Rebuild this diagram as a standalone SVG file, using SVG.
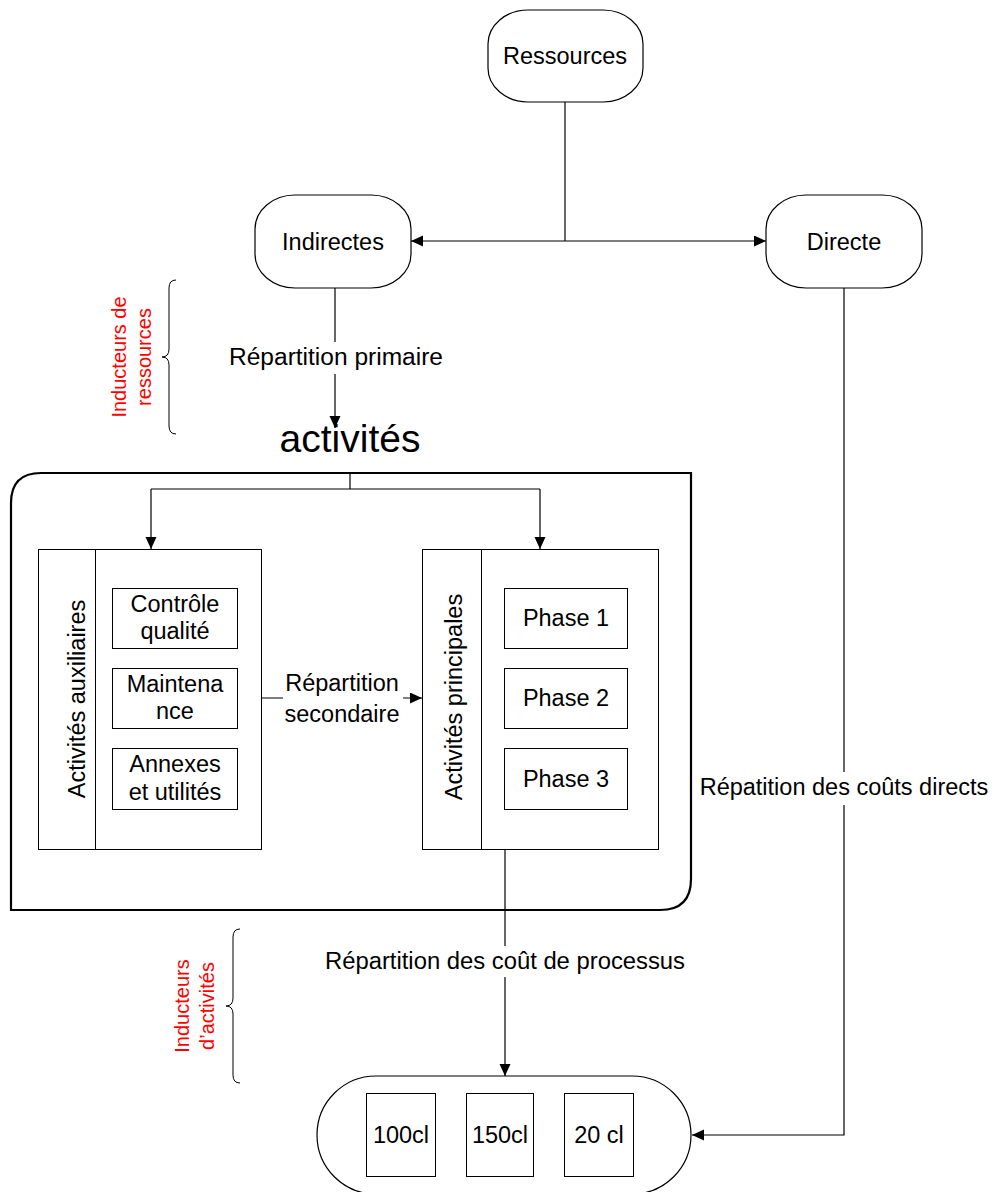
<svg xmlns="http://www.w3.org/2000/svg" width="996" height="1192" viewBox="0 0 996 1192">
  <style>
    .node { fill: #ffffff; stroke: #000000; stroke-width: 1.2; }
    .frame { fill: none; stroke: #000000; stroke-width: 2.2; }
    .box { fill: #ffffff; stroke: #000000; stroke-width: 1; }
    .lbl { font-family: "Liberation Sans", Arial, sans-serif; font-size: 23.5px; fill: #000000; text-anchor: middle; }
    .big { font-family: "Liberation Sans", Arial, sans-serif; font-size: 39px; fill: #000000; text-anchor: middle; }
    .red { font-family: "Liberation Sans", Arial, sans-serif; font-size: 20px; fill: #ff0000; text-anchor: middle; }
    .conn { fill: none; stroke: #000000; stroke-width: 1.2; }
    .brace { fill: none; stroke: #000000; stroke-width: 1; }
    .bg { fill: #ffffff; stroke: none; }
  </style>
  <defs>
    <marker id="arrow" markerUnits="userSpaceOnUse" markerWidth="13" markerHeight="12" refX="12" refY="5.5" orient="auto">
      <path d="M0,0 L12,5.5 L0,11 Z" fill="#000000"/>
    </marker>
  </defs>

  <rect width="996" height="1192" fill="#ffffff"/>

  <!-- connectors -->
  <g id="connectors">
    <path class="conn" d="M565,102 V241"/>
    <path class="conn" d="M565,241 H411" marker-end="url(#arrow)"/>
    <path class="conn" d="M565,241 H766" marker-end="url(#arrow)"/>
    <path class="conn" d="M335,288 V428" marker-end="url(#arrow)"/>
    <path class="conn" d="M350,473 V489 M151,489 H540"/>
    <path class="conn" d="M151,489 V549" marker-end="url(#arrow)"/>
    <path class="conn" d="M540,489 V549" marker-end="url(#arrow)"/>
    <path class="conn" d="M262,698 H422" marker-end="url(#arrow)"/>
    <path class="conn" d="M505,849 V1076" marker-end="url(#arrow)"/>
    <path class="conn" d="M844,288 V1135 H692" marker-end="url(#arrow)"/>

    <rect class="bg" x="224" y="342" width="226" height="32"/>
    <text class="lbl" x="336" y="365" textLength="214" lengthAdjust="spacingAndGlyphs">Répartition primaire</text>

    <rect class="bg" x="283" y="672" width="120" height="58"/>
    <text class="lbl" x="342" y="691">Répartition</text>
    <text class="lbl" x="342" y="722">secondaire</text>

    <rect class="bg" x="320" y="946" width="372" height="31"/>
    <text class="lbl" x="505" y="969" textLength="360" lengthAdjust="spacingAndGlyphs">Répartition des coût de processus</text>

    <rect class="bg" x="694" y="772" width="300" height="33"/>
    <text class="lbl" x="844" y="795">Répatition des coûts directs</text>
  </g>

  <!-- resources -->
  <g id="ressources">
    <rect class="node" x="488" y="10" width="155" height="92" rx="40" ry="34"/>
    <text class="lbl" x="565" y="64">Ressources</text>
  </g>

  <g id="indirectes">
    <rect class="node" x="255" y="195" width="156" height="93" rx="40" ry="34"/>
    <text class="lbl" x="333" y="250">Indirectes</text>
  </g>

  <g id="directe">
    <rect class="node" x="766" y="195" width="156" height="93" rx="40" ry="34"/>
    <text class="lbl" x="844" y="250">Directe</text>
  </g>

  <!-- resource drivers brace -->
  <g id="inducteurs-ressources">
    <path class="brace" d="M176,280 Q169,280 169,288 V349 Q169,357 162,357 Q169,357 169,365 V426 Q169,434 176,434"/>
    <text class="red" transform="translate(126,357) rotate(-90)">Inducteurs de</text>
    <text class="red" transform="translate(151,357) rotate(-90)">ressources</text>
  </g>

  <!-- activities container -->
  <g id="activites">
    <text class="big" x="350" y="452">activités</text>
    <path class="frame" d="M11,910 V503 Q11,473 41,473 H691 V879 Q691,910 660,910 Z"/>
  </g>

  <g id="activites-auxiliaires">
    <rect class="box" x="38.5" y="549.5" width="223" height="300"/>
    <line class="box" x1="95.5" y1="549.5" x2="95.5" y2="849.5"/>
    <text class="lbl" transform="translate(85,699) rotate(-90)">Activités auxiliaires</text>
    <rect class="box" x="112.5" y="588.5" width="125" height="60"/>
    <text class="lbl" x="175" y="612">Contrôle</text>
    <text class="lbl" x="175" y="639">qualité</text>
    <rect class="box" x="112.5" y="668.5" width="125" height="60"/>
    <text class="lbl" x="175" y="692">Maintena</text>
    <text class="lbl" x="175" y="719">nce</text>
    <rect class="box" x="112.5" y="748.5" width="125" height="61"/>
    <text class="lbl" x="175" y="772">Annexes</text>
    <text class="lbl" x="175" y="800">et utilités</text>
  </g>

  <g id="activites-principales">
    <rect class="box" x="422.5" y="549.5" width="236" height="300"/>
    <line class="box" x1="481.5" y1="549.5" x2="481.5" y2="849.5"/>
    <text class="lbl" transform="translate(462,697) rotate(-90)">Activités principales</text>
    <rect class="box" x="504.5" y="588.5" width="123" height="60"/>
    <text class="lbl" x="566" y="626">Phase 1</text>
    <rect class="box" x="504.5" y="668.5" width="123" height="60"/>
    <text class="lbl" x="566" y="706">Phase 2</text>
    <rect class="box" x="504.5" y="748.5" width="123" height="61"/>
    <text class="lbl" x="566" y="787">Phase 3</text>
  </g>

  <!-- activity drivers brace -->
  <g id="inducteurs-activites">
    <path class="brace" d="M240,929 Q233,929 233,937 V998 Q233,1006 226,1006 Q233,1006 233,1014 V1075 Q233,1083 240,1083"/>
    <text class="red" transform="translate(189,1006) rotate(-90)">Inducteurs</text>
    <text class="red" transform="translate(214,1006) rotate(-90)">d’activités</text>
  </g>

  <!-- products -->
  <g id="produits">
    <rect class="node" x="317" y="1076" width="374" height="118" rx="59" ry="59"/>
    <rect class="box" x="366.5" y="1093.5" width="69" height="83"/>
    <text class="lbl" x="401" y="1143">100cl</text>
    <rect class="box" x="466.5" y="1093.5" width="67" height="83"/>
    <text class="lbl" x="500" y="1143">150cl</text>
    <rect class="box" x="564.5" y="1093.5" width="69" height="83"/>
    <text class="lbl" x="599" y="1143">20 cl</text>
  </g>
</svg>
